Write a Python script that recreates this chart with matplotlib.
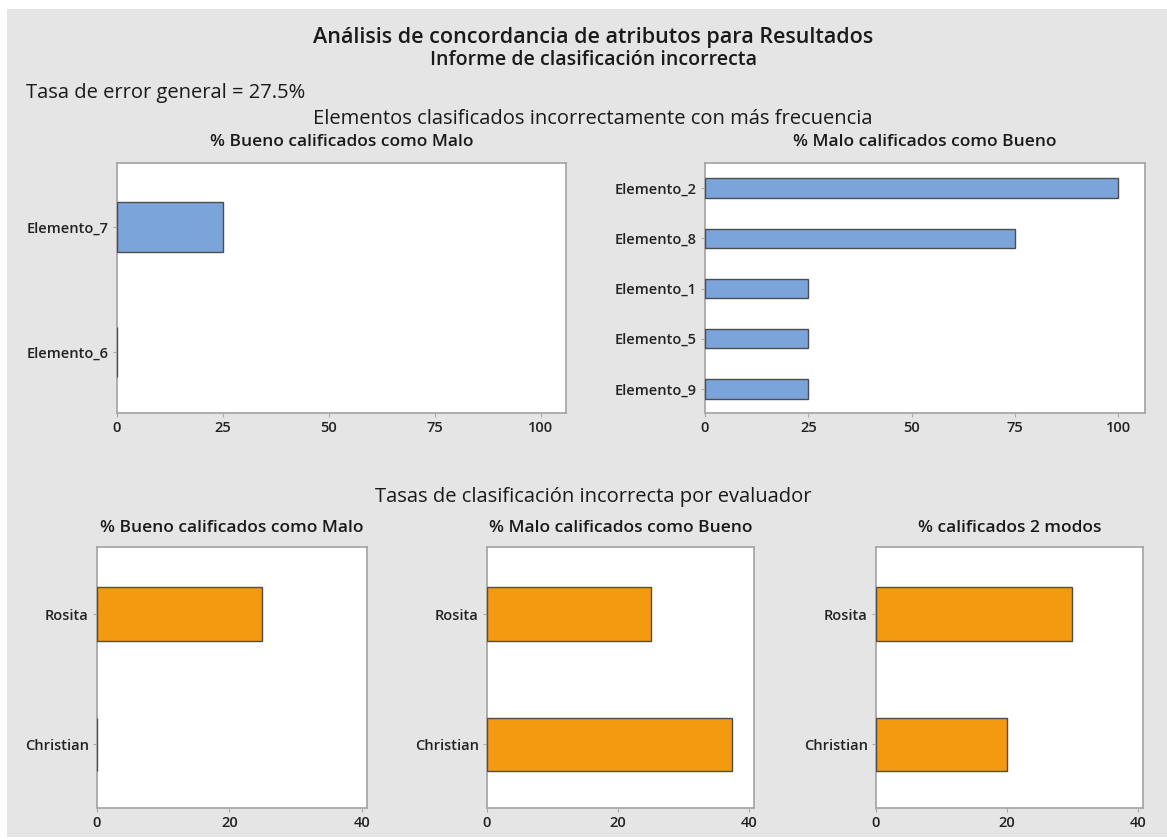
import matplotlib
matplotlib.use("Agg")
import matplotlib.pyplot as plt
from matplotlib.patches import Rectangle

# ---------------- data ----------------
main_title = "Análisis de concordancia de atributos para Resultados"
sub_title = "Informe de clasificación incorrecta"
error_text = "Tasa de error general = 27.5%"
sec1_title = "Elementos clasificados incorrectamente con más frecuencia"
sec2_title = "Tasas de clasificación incorrecta por evaluador"

tl_title = "% Bueno calificados como Malo"
tl_items = ["Elemento_6", "Elemento_7"]          # bottom -> top
tl_values = [0, 25]

tr_title = "% Malo calificados como Bueno"
tr_items = ["Elemento_9", "Elemento_5", "Elemento_1", "Elemento_8", "Elemento_2"]
tr_values = [25, 25, 25, 75, 100]

appraisers = ["Christian", "Rosita"]             # bottom -> top
b_titles = ["% Bueno calificados como Malo", "% Malo calificados como Bueno", "% calificados 2 modos"]
b_good_as_bad = [0, 25]
b_bad_as_good = [37.5, 25]
b_mixed = [20, 30]

top_ticks = [0, 25, 50, 75, 100]
bottom_ticks = [0, 20, 40]

# ---------------- style ----------------
W, H = 1167, 840
FONT = "Open Sans"
plt.rcParams["font.family"] = [FONT, "DejaVu Sans"]
BG = "#e5e5e5"
BLUE = "#7ba5da"
ORANGE = "#f49a10"
EDGE = "#4d4d4d"
SPINE = "#a8a8a8"
TXT = "#1a1a1a"

fig = plt.figure(figsize=(W / 100, H / 100), dpi=100, facecolor="white")
fig.patches.append(Rectangle((7 / W, 1 - 837 / H), 1, (837 - 9) / H, transform=fig.transFigure,
                             facecolor=BG, edgecolor="none", zorder=-10))


def ax_px(left, right, top, bottom):
    return fig.add_axes([left / W, 1 - bottom / H, (right - left) / W, (bottom - top) / H])


def ftext(x, y, s, size, weight="normal", ha="center"):
    fig.text(x / W, 1 - y / H, s, ha=ha, va="center", fontsize=size,
             fontweight=weight, color=TXT, family=[FONT, "DejaVu Sans"])


def style(ax, xmax, ticks, ylim):
    ax.set_facecolor("white")
    ax.set_xlim(0, xmax)
    ax.set_ylim(*ylim)
    ax.set_xticks(ticks)
    for s in ax.spines.values():
        s.set_color(SPINE)
        s.set_linewidth(1.3)
    ax.tick_params(axis="both", direction="out", length=3, width=0.8, color=SPINE,
                   labelsize=10.5, labelcolor="#222222", pad=3)
    for lab in ax.get_xticklabels() + ax.get_yticklabels():
        lab.set_fontweight("semibold")


def barh(ax, cats, vals, color, height):
    ax.barh(range(len(cats)), vals, height=height, color=color, edgecolor=EDGE,
            linewidth=1.0, zorder=3)
    ax.set_yticks(range(len(cats)))
    ax.set_yticklabels(cats)


# texts
CX = 593
ftext(CX, 37, main_title, 15.5, "semibold")
ftext(CX, 60, sub_title, 14, "semibold")
ftext(26, 93, error_text, 14.5, "normal", ha="left")
ftext(CX, 119, sec1_title, 14.5, "medium")
ftext(CX, 497, sec2_title, 14.5, "medium")

# top-left
ax1 = ax_px(117, 566, 163, 413)
barh(ax1, tl_items, tl_values, BLUE, 0.4)
style(ax1, 106, top_ticks, (-0.49, 1.51))
ftext((117 + 566) / 2, 142, tl_title, 12.5, "semibold")

# top-right
ax2 = ax_px(705, 1145, 163, 413)
barh(ax2, tr_items, tr_values, BLUE, 0.39)
style(ax2, 106.5, top_ticks, (-0.48, 4.5))
ftext((705 + 1145) / 2, 142, tr_title, 12.5, "semibold")

# bottom row
b_lefts = [97, 487, 876]
b_rights = [367, 754, 1143]
b_vals = [b_good_as_bad, b_bad_as_good, b_mixed]
for l, r, t, v in zip(b_lefts, b_rights, b_titles, b_vals):
    ax = ax_px(l, r, 547, 808)
    barh(ax, appraisers, v, ORANGE, 0.41)
    style(ax, 40.8, bottom_ticks, (-0.49, 1.515))
    ftext((l + r) / 2, 528, t, 12.5, "semibold")

fig.savefig("out.png", dpi=100, facecolor=fig.get_facecolor())
